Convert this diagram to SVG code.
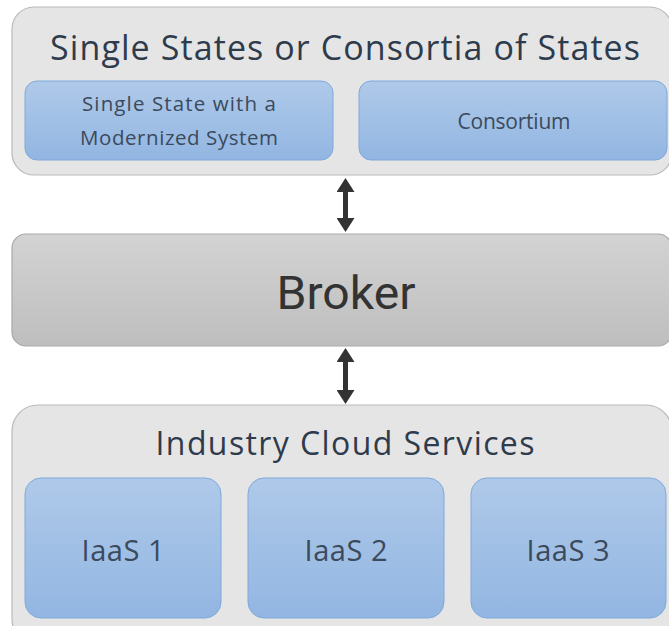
<svg xmlns="http://www.w3.org/2000/svg" width="669" height="626" viewBox="0 0 669 626">
<defs>
<linearGradient id="blue" x1="0" y1="0" x2="0" y2="1">
<stop offset="0" stop-color="#afc9e9"/>
<stop offset="1" stop-color="#92b6e2"/>
</linearGradient>
<linearGradient id="grey" x1="0" y1="0" x2="0" y2="1">
<stop offset="0" stop-color="#d3d3d3"/>
<stop offset="1" stop-color="#bebebe"/>
</linearGradient>
<marker id="head" viewBox="0 0 14 18" refX="4" refY="9" markerWidth="14" markerHeight="18" markerUnits="userSpaceOnUse" orient="auto-start-reverse">
<path d="M0,0 L14,9 L0,18 z" fill="#333333"/>
</marker>
<style>
.container{fill:#e5e5e5;stroke:#b9b9b9;stroke-width:1.2}
.inner{fill:url(#blue);stroke:#7fa9db;stroke-width:1}
.broker{fill:url(#grey);stroke:#a9a9a9;stroke-width:1.2}
.title{font-family:"Open Sans","Noto Sans",sans-serif;fill:#2e3b4c;text-anchor:middle}
.label{font-family:"Open Sans","Noto Sans",sans-serif;fill:#3b4a5c;text-anchor:middle}
.conn{stroke:#333333;stroke-width:5;fill:none;marker-start:url(#head);marker-end:url(#head)}
</style>
</defs>
<g id="states">
<rect class="container" x="12" y="7" width="660" height="168" rx="22"/>
<text class="title" x="345" y="60" font-size="34" textLength="590" lengthAdjust="spacing">Single States or Consortia of States</text>
</g>
<g id="single-state">
<rect class="inner" x="25" y="81" width="308" height="79" rx="12"/>
<text class="label" x="179" y="111" font-size="20.5" textLength="194" lengthAdjust="spacing">Single State with a</text>
<text class="label" x="179" y="145" font-size="20.5" textLength="198" lengthAdjust="spacing">Modernized System</text>
</g>
<g id="consortium">
<rect class="inner" x="359" y="81" width="308" height="79" rx="12"/>
<text class="label" x="514" y="129" font-size="21" textLength="113" lengthAdjust="spacing">Consortium</text>
</g>
<g id="broker">
<rect class="broker" x="12" y="234" width="660" height="112" rx="14"/>
<text x="346" y="309" font-family="Roboto,'Liberation Sans',sans-serif" font-size="47" fill="#333333" text-anchor="middle" textLength="139" lengthAdjust="spacingAndGlyphs">Broker</text>
</g>
<g id="cloud">
<rect class="container" x="12" y="405" width="660" height="240" rx="26"/>
<text class="title" x="345" y="455" font-size="32" textLength="379" lengthAdjust="spacing">Industry Cloud Services</text>
</g>
<g id="iaas1">
<rect class="inner" x="25" y="478" width="196" height="140" rx="16"/>
<text class="label" x="123" y="561" font-size="29" textLength="83" lengthAdjust="spacing">IaaS 1</text>
</g>
<g id="iaas2">
<rect class="inner" x="248" y="478" width="196" height="140" rx="16"/>
<text class="label" x="346" y="561" font-size="29" textLength="83" lengthAdjust="spacing">IaaS 2</text>
</g>
<g id="iaas3">
<rect class="inner" x="471" y="478" width="195" height="140" rx="16"/>
<text class="label" x="568" y="561" font-size="29" textLength="83" lengthAdjust="spacing">IaaS 3</text>
</g>
<g id="connectors">
<line class="conn" x1="345.5" y1="188" x2="345.5" y2="222"/>
<line class="conn" x1="345.5" y1="358" x2="345.5" y2="394"/>
</g>
</svg>
